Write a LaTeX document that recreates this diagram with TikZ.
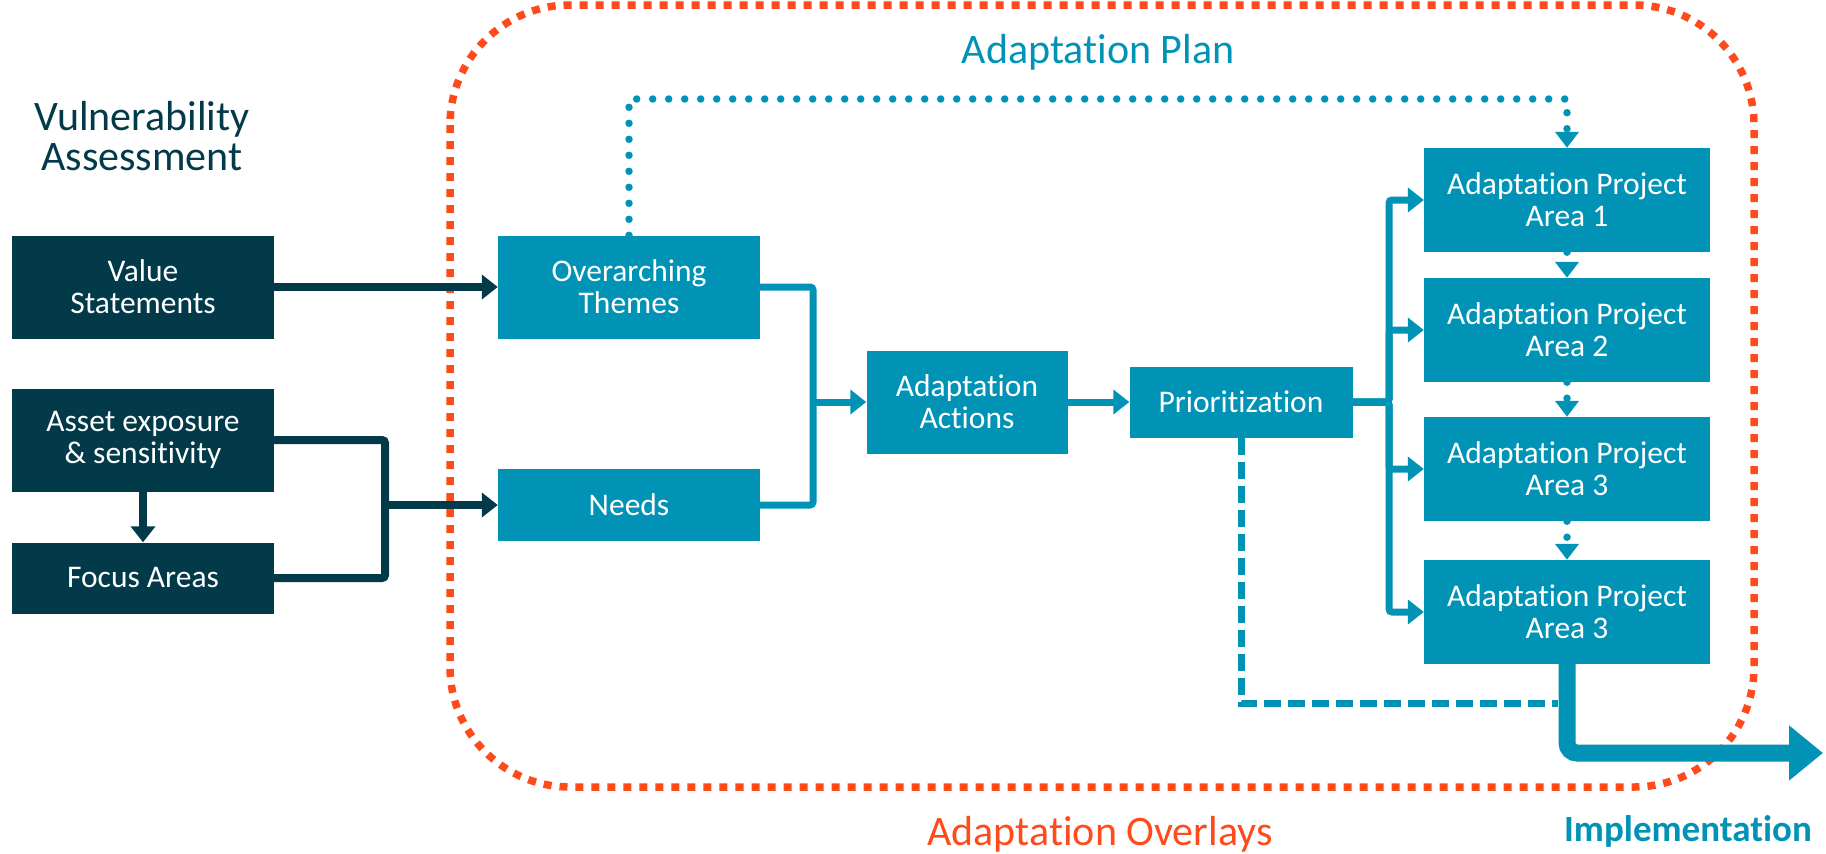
\documentclass[tikz,border=0pt]{standalone}
\usepackage{fontspec}
\setmainfont{Carlito}[Ligatures={NoCommon, NoRare}]
\usepackage{tikz}
\usetikzlibrary{positioning, arrows.meta}

\definecolor{vaDark}{RGB}{2,58,74}
\definecolor{apTeal}{RGB}{0,147,181}
\definecolor{ovOrange}{RGB}{255,74,28}

\begin{document}
\begin{tikzpicture}[x=1pt, y=-1pt,
    vaBox/.style={rectangle, fill=vaDark, minimum width=262pt, minimum height=103pt, inner sep=0pt, align=center, text=white, font=\fontsize{31.5}{32}\selectfont},
    apBox/.style={vaBox, fill=apTeal},
    vaLine/.style={draw=vaDark, line width=8pt, rounded corners=3pt},
    apLine/.style={draw=apTeal, line width=7pt, rounded corners=3pt},
    apDots/.style={draw=apTeal, line width=7.5pt, line cap=round, dash pattern=on 0pt off 16pt},
    arrowTip/.style={-{Triangle[length=16pt, width=24pt]}}]
    \useasboundingbox (0,0) rectangle (1826,854);

    % Overlay boundary
    \draw[ovOrange, line width=7.5pt, dash pattern=on 8pt off 8pt, rounded corners=120pt] (450,5) rectangle (1754,787);

    % Titles
    \node[text=vaDark, align=center, font=\fontsize{42}{40}\selectfont] (vaTitle) at (142,136) {Vulnerability\\Assessment};
    \node[text=apTeal, anchor=base, font=\fontsize{42}{42}\selectfont] (apTitle) at (1098,63) {Adaptation Plan};
    \node[text=ovOrange, anchor=base, font=\fontsize{42}{42}\selectfont] (ovTitle) at (1100,845) {Adaptation Overlays};
    \node[text=apTeal, anchor=base, font=\bfseries\fontsize{37}{37}\selectfont] (impl) at (1688,841) {Implementation};

    % Vulnerability assessment
    \node[vaBox] (vs) at (143,287) {Value\\Statements};
    \node[vaBox] (asset) at (143,440) {Asset exposure\\\& sensitivity};
    \node[vaBox, minimum height=71pt] (focus) at (143,578) {Focus Areas};

    % Adaptation plan
    \node[apBox] (ot) at (629,287) {Overarching\\Themes};
    \node[apBox, minimum height=72pt] (needs) at (629,505) {Needs};
    \node[apBox, minimum width=201pt] (actions) at (967,402) {Adaptation\\Actions};
    \node[apBox, minimum width=223pt, minimum height=71pt] (prior) at (1241,402) {Prioritization};
    \node[apBox, minimum width=286pt, minimum height=104pt] (pa1) at (1567,200) {Adaptation Project\\Area 1};
    \node[apBox, minimum width=286pt, minimum height=104pt] (pa2) at (1567,330) {Adaptation Project\\Area 2};
    \node[apBox, minimum width=286pt, minimum height=104pt] (pa3) at (1567,469) {Adaptation Project\\Area 3};
    \node[apBox, minimum width=286pt, minimum height=104pt] (pa4) at (1567,612) {Adaptation Project\\Area 3};

    \coordinate (vaJoin) at (385,505);
    \coordinate (apJoin) at (813,402);
    \coordinate (paBus) at (1389,402);
    \coordinate (planTop) at (0,99);
    \coordinate (fbEnd) at (1558,703);
    \coordinate (implEnd) at (1823,753);

    % Links - solid lines
    \draw[vaLine, arrowTip] (vs) -- (ot);
    \draw[vaLine, arrowTip] (asset) -- (focus);
    \draw[vaLine] (asset.east) -| (vaJoin) |- (focus.east);
    \draw[vaLine, arrowTip] (vaJoin) -- (needs);

    \draw[apLine] (ot.east) -| (apJoin) |- (needs.east);
    \draw[apLine, arrowTip] (apJoin) -- (actions);
    \draw[apLine, arrowTip] (actions) -- (prior);
    \foreach \pa in {pa1, pa2, pa3, pa4}
        \draw[apLine, arrowTip] (prior.east) -- (paBus) |- (\pa.west);

    % Links - dotted and dashed
    \draw[apDots, -{Triangle[length=16pt, width=23pt]}] (ot.north) -- (ot.north |- planTop) -| (pa1.north);
    \foreach \a/\b in {pa1/pa2, pa2/pa3, pa3/pa4}
        \draw[apDots, -{Triangle[length=16pt, width=23pt]}] (\a.south) -- (\b.north);
    \draw[apLine, rounded corners=0pt, dash pattern=on 17pt off 7pt] (prior.south) |- (fbEnd);

    % Implementation
    \draw[apTeal, line width=17pt, rounded corners=10pt, -{Triangle[length=34pt, width=53pt]}] (pa4.south) |- (implEnd);

\end{tikzpicture}
\end{document}
